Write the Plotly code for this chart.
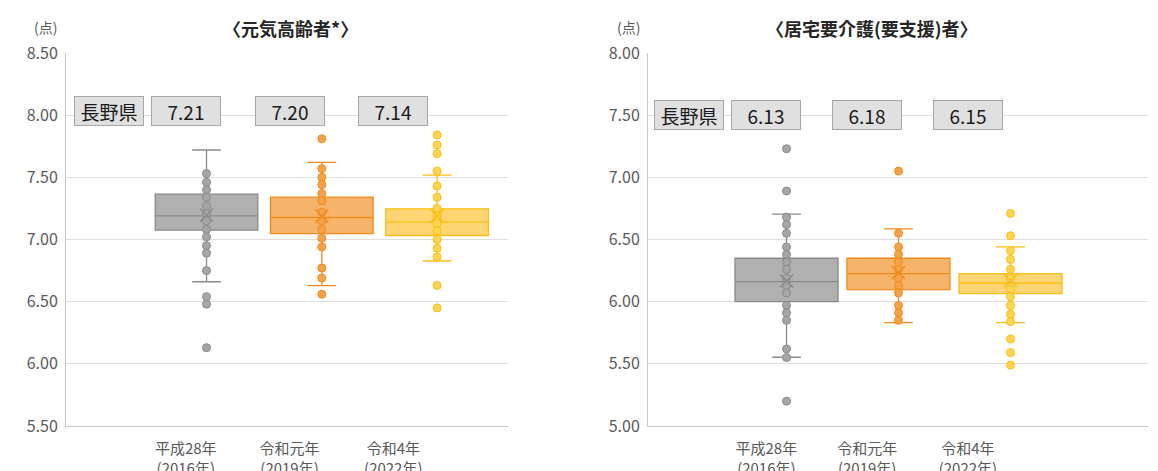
"""
Box plots of 長野県 scores: 元気高齢者 and 居宅要介護(要支援)者, 2016/2019/2022.
"""

import plotly.graph_objects as go

# ---- data -------------------------------------------------------------
years = ['平成28年<br>(2016年)', '令和元年<br>(2019年)', '令和4年<br>(2022年)']

# 元気高齢者 (left panel)
genki_nagano = [7.21, 7.20, 7.14]
genki_q1 = [7.075, 7.048, 7.032]
genki_median = [7.19, 7.177, 7.14]
genki_q3 = [7.365, 7.341, 7.247]
genki_lower = [6.66, 6.629, 6.827]
genki_upper = [7.72, 7.62, 7.518]
genki_mean = [7.195, 7.188, 7.19]
genki_pts_2016 = [7.53, 7.46, 7.40, 7.34, 7.27, 7.21, 7.15, 7.08, 7.02, 6.95,
                  6.89, 6.75, 6.54, 6.48, 6.13]
genki_pts_2019 = [7.81, 7.57, 7.50, 7.44, 7.37, 7.31, 7.22, 7.15, 7.08, 7.01,
                  6.94, 6.77, 6.69, 6.56]
genki_pts_2022 = [7.84, 7.76, 7.69, 7.55, 7.43, 7.34, 7.25, 7.19, 7.13, 7.07,
                  7.00, 6.93, 6.86, 6.63, 6.45]

# 居宅要介護(要支援)者 (right panel)
kyotaku_nagano = [6.13, 6.18, 6.15]
kyotaku_q1 = [6.00, 6.097, 6.065]
kyotaku_median = [6.161, 6.226, 6.15]
kyotaku_q3 = [6.349, 6.349, 6.226]
kyotaku_lower = [5.553, 5.831, 5.831]
kyotaku_upper = [6.704, 6.585, 6.44]
kyotaku_mean = [6.166, 6.234, 6.168]
kyotaku_pts_2016 = [7.23, 6.89, 6.68, 6.62, 6.55, 6.44, 6.38, 6.32, 6.26, 6.19,
                    6.13, 6.07, 5.97, 5.91, 5.85, 5.62, 5.55, 5.20]
kyotaku_pts_2019 = [7.05, 6.55, 6.44, 6.38, 6.32, 6.26, 6.19, 6.13, 6.07, 5.97,
                    5.91, 5.85]
kyotaku_pts_2022 = [6.71, 6.53, 6.41, 6.34, 6.26, 6.19, 6.10, 6.04, 5.97, 5.90,
                    5.84, 5.70, 5.59, 5.49]

# ---- styling ----------------------------------------------------------
FONT = 'Noto Sans CJK JP'
W, H = 1150, 463  # page body has an 8px margin inside the 1158x471 window
fills = ['#b0b0b0', '#f5b469', '#fdd673']
edges = ['#8a8a8a', '#ef8c1f', '#f9bf16']
dot_fill = ['#a6a6a6', '#f5a24b', '#fed552']
box_x = [0, 1, 2]
label_x = [-0.18 + 0.9 * i for i in box_x]


def px_x(p):
    return (p - 8) / W


def px_y(p):
    return 1 - (p - 8) / H


fig = go.Figure()


def add_panel(xa, ya, q1, med, q3, lo, hi, mean, pts, box_w):
    for i in range(3):
        fig.add_trace(go.Box(
            x=[box_x[i]], q1=[q1[i]], median=[med[i]], q3=[q3[i]],
            lowerfence=[lo[i]], upperfence=[hi[i]],
            boxpoints=False, width=box_w, whiskerwidth=0.28,
            fillcolor=fills[i], line=dict(color=edges[i], width=1.3),
            xaxis=xa, yaxis=ya, showlegend=False, hoverinfo='skip',
        ))
    for i in range(3):
        fig.add_trace(go.Scatter(
            x=[box_x[i]] * len(pts[i]), y=pts[i], mode='markers',
            marker=dict(size=8, color=dot_fill[i],
                        line=dict(color=edges[i], width=1)),
            xaxis=xa, yaxis=ya, showlegend=False,
        ))
        fig.add_trace(go.Scatter(
            x=[box_x[i]], y=[mean[i]], mode='markers',
            marker=dict(symbol='x-thin', size=13,
                        line=dict(color=edges[i], width=1.5)),
            xaxis=xa, yaxis=ya, showlegend=False,
        ))


add_panel('x', 'y', genki_q1, genki_median, genki_q3, genki_lower,
          genki_upper, genki_mean,
          [genki_pts_2016, genki_pts_2019, genki_pts_2022], 0.89)
add_panel('x2', 'y2', kyotaku_q1, kyotaku_median, kyotaku_q3, kyotaku_lower,
          kyotaku_upper, kyotaku_mean,
          [kyotaku_pts_2016, kyotaku_pts_2019, kyotaku_pts_2022], 0.92)

# value label boxes
def label(xref, yref, x, y, text):
    fig.add_annotation(
        xref=xref, yref=yref, x=x, y=y, text=text, showarrow=False,
        font=dict(family=FONT, size=19, color='#1a1a1a'),
        bgcolor='#e0e0e0', bordercolor='#a6a6a6', borderwidth=1,
        borderpad=1, width=66, height=26,
    )


label('x', 'y', -0.85, 8.03, '長野県')
for i in range(3):
    label('x', 'y', label_x[i], 8.03, f'{genki_nagano[i]:.2f}')
label('x2', 'y2', -0.87, 7.50, '長野県')
for i in range(3):
    label('x2', 'y2', label_x[i], 7.50, f'{kyotaku_nagano[i]:.2f}')

# titles and unit labels
for x, text in [(290, '<b>〈元気高齢者*〉</b>'), (872, '<b>〈居宅要介護(要支援)者〉</b>')]:
    fig.add_annotation(xref='paper', yref='paper', x=px_x(x), y=px_y(28),
                       xanchor='center', yanchor='middle', text=text,
                       showarrow=False, font=dict(family=FONT, size=18, color='#262626'))
for x in [45, 628]:
    fig.add_annotation(xref='paper', yref='paper', x=px_x(x), y=px_y(27),
                       xanchor='center', yanchor='middle', text='(点)',
                       showarrow=False, font=dict(family=FONT, size=14, color='#595959'))

axis_common = dict(
    showgrid=False, showline=True, linecolor='#c8c8c8', linewidth=1,
    tickvals=label_x, ticktext=years, ticks='', automargin=False,
    tickfont=dict(family=FONT, size=15, color='#595959'),
    zeroline=False, ticklabelstandoff=9,
)
yaxis_common = dict(
    showgrid=True, gridcolor='#dedede', gridwidth=1, showline=True,
    linecolor='#c8c8c8', linewidth=1, dtick=0.5, tickformat='.2f',
    tickfont=dict(family=FONT, size=16, color='#595959'), zeroline=False,
    ticks='', ticklabelstandoff=4, automargin=False,
)

fig.update_layout(
    width=W, height=H,
    margin=dict(l=0, r=0, t=0, b=0),
    paper_bgcolor='white', plot_bgcolor='white',
    font=dict(family=FONT),
    xaxis=dict(domain=[px_x(66), px_x(508)], range=[-1.219, 2.615],
               anchor='y', **axis_common),
    yaxis=dict(domain=[px_y(426), px_y(53)], range=[5.5, 8.5],
               anchor='x', **yaxis_common),
    xaxis2=dict(domain=[px_x(648), px_x(1148)], range=[-1.237, 3.228],
                anchor='y2', **axis_common),
    yaxis2=dict(domain=[px_y(426), px_y(53)], range=[5.0, 8.0],
                anchor='x2', **yaxis_common),
    showlegend=False,
)

fig.write_html("out.html")
